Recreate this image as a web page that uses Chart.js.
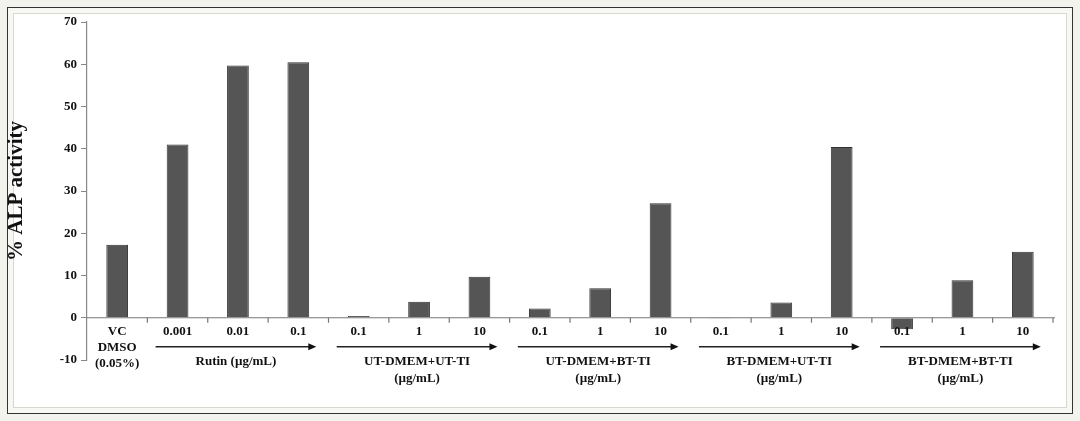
<!DOCTYPE html>
<html><head><meta charset="utf-8">
<script src="https://cdn.jsdelivr.net/npm/chart.js@4"></script>
<style>
html,body{margin:0;padding:0;background:#f3f3ee;width:1080px;height:421px;overflow:hidden}
#frame{position:absolute;left:7px;top:7px;width:1064px;height:405px;border:1px solid #333;background:#f7f7f3}
#inner{position:absolute;left:5px;top:5px;right:5px;bottom:5px;border:1px solid #d8d8d0;background:#fff}
canvas{position:absolute;left:0;top:0}
</style></head><body>
<div id="frame"><div id="inner"></div></div>
<canvas id="c" width="1080" height="421"></canvas>
<script>
const categories = ["VC","0.001","0.01","0.1","0.1","1","10","0.1","1","10","0.1","1","10","0.1","1","10"];
const values = [17.3,41.0,59.7,60.5,0.4,3.8,9.7,2.2,7.0,27.1,-0.2,3.6,40.4,-2.7,8.9,15.6];
const yTicks = [-10,0,10,20,30,40,50,60,70];
const groups = [
  {from:1,to:3,lines:["Rutin (µg/mL)"]},
  {from:4,to:6,lines:["UT-DMEM+UT-TI","(µg/mL)"]},
  {from:7,to:9,lines:["UT-DMEM+BT-TI","(µg/mL)"]},
  {from:10,to:12,lines:["BT-DMEM+UT-TI","(µg/mL)"]},
  {from:13,to:15,lines:["BT-DMEM+BT-TI","(µg/mL)"]}
];
const vcLines = ["VC","DMSO","(0.05%)"];
const F = "bold 13px 'Liberation Serif', 'Times New Roman', serif";
const annot = {
  id:'annot',
  afterDatasetsDraw(chart){
    const ctx=chart.ctx, x=chart.scales.x, y=chart.scales.y;
    const y0=y.getPixelForValue(0);
    const step=x.getPixelForValue(1)-x.getPixelForValue(0);
    ctx.save();
    ctx.strokeStyle='#777';ctx.lineWidth=1.2;
    ctx.beginPath();ctx.moveTo(chart.chartArea.left,y0);ctx.lineTo(chart.chartArea.right+2,y0);ctx.stroke();
    for(let i=1;i<=categories.length;i++){
      const px=x.getPixelForValue(i)-step/2;
      ctx.beginPath();ctx.moveTo(px,y0);ctx.lineTo(px,y0+5);ctx.stroke();
    }
    ctx.fillStyle='#111';ctx.font=F;ctx.textAlign='center';ctx.textBaseline='middle';
    categories.forEach((c,i)=>{ if(i>0) ctx.fillText(c,x.getPixelForValue(i),y0+14); });
    vcLines.forEach((t,k)=>ctx.fillText(t,x.getPixelForValue(0),y0+14+k*16));
    groups.forEach(g=>{
      const a=x.getPixelForValue(g.from)-22, b=x.getPixelForValue(g.to)+18, ay=y0+29;
      ctx.strokeStyle='#222';ctx.lineWidth=1.3;
      ctx.beginPath();ctx.moveTo(a,ay);ctx.lineTo(b-6,ay);ctx.stroke();
      ctx.fillStyle='#111';
      ctx.beginPath();ctx.moveTo(b,ay);ctx.lineTo(b-8,ay-3.5);ctx.lineTo(b-8,ay+3.5);ctx.closePath();ctx.fill();
      g.lines.forEach((t,k)=>ctx.fillText(t,(a+b)/2,ay+15+k*17));
    });
    ctx.restore();
  }
};
new Chart(document.getElementById('c'),{
  type:'bar',
  data:{labels:categories,datasets:[{data:values,backgroundColor:'#555',borderColor:'#333',borderWidth:1,barPercentage:0.36,categoryPercentage:1}]},
  options:{
    responsive:false,animation:false,
    layout:{padding:{left:0,right:27,top:22,bottom:61}},
    plugins:{legend:{display:false},tooltip:{enabled:false}},
    scales:{
      x:{display:false},
      y:{min:-10,max:70,
        afterFit(s){s.width=87;},
        afterBuildTicks(s){s.ticks=yTicks.map(v=>({value:v}));},
        border:{color:'#888',width:1.2},
        grid:{drawOnChartArea:false,tickLength:6,color:'#888'},
        ticks:{color:'#111',font:{family:"'Liberation Serif', serif",weight:'bold',size:13},padding:4},
        title:{display:true,text:'% ALP activity',color:'#111',font:{family:"'Liberation Serif', serif",weight:'bold',size:21},padding:{bottom:6}}
      }
    }
  },
  plugins:[annot]
});
</script></body></html>
